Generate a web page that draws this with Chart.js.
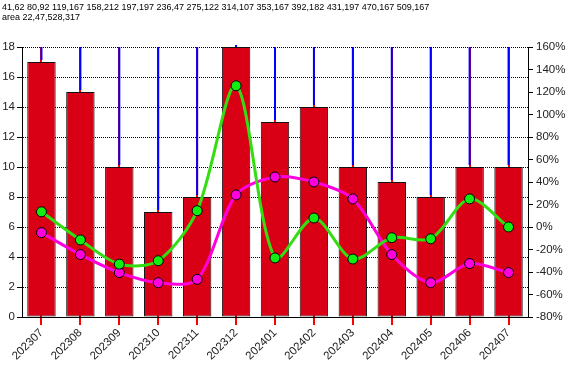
<!DOCTYPE html>
<html>
<head>
<meta charset="utf-8">
<script src="https://cdn.jsdelivr.net/npm/chart.js@4"></script>
<style>
html,body{margin:0;padding:0;background:#fff;}
#wrap{width:578px;height:383px;position:relative;}
</style>
</head>
<body>
<div id="wrap"><canvas id="c" width="578" height="383"></canvas></div>
<script>
const titleText = '中国黑碳化硅生产商过去13个月停产公司数量';
const categories = ['202307','202308','202309','202310','202311','202312','202401','202402','202403','202404','202405','202406','202407'];
const companyCount = [17,15,10,7,8,18,13,14,10,9,8,10,10];
const yoyPct = [-5,-24.5,-40.5,-49.5,-46.5,28.5,44.5,40,25,-24.5,-49.5,-32.5,-40.5];
const momPct = [13.5,-11.5,-33,-30,14.5,125.5,-27.5,8,-28.5,-9.5,-10.5,25,0];
const leftTicks = [0,2,4,6,8,10,12,14,16,18];
const rightTicks = [-80,-60,-40,-20,0,20,40,60,80,100,120,140,160];
const seriesNames = ['同比','环比','公司数量'];

const FONT = '"Liberation Sans", Arial, sans-serif';
const CJK = '"Noto Sans CJK SC", sans-serif';
const BAR = '#D90016';
const MAG = '#FF00DD';
const GRN = '#33DD11';

const extras = {
  id: 'extras',
  afterDraw(chart) {
    const ctx = chart.ctx, a = chart.chartArea;
    const meta = chart.getDatasetMeta(2);
    ctx.save();
    ctx.strokeStyle = 'blue';
    ctx.lineWidth = 2;
    const info = [];
    for (let i = 0; i < categories.length; i++) {
      const el = meta.data[i];
      info.push(Math.round(el.x) + ',' + Math.round(el.y));
      ctx.beginPath(); ctx.moveTo(el.x, a.top); ctx.lineTo(el.x, el.y - 2); ctx.stroke();
    }
    ctx.fillStyle = '#000'; ctx.font = '9px sans-serif';
    ctx.fillText(info.join(' '), 2, 10);
    ctx.fillText('area ' + [a.left, a.top, a.right, a.bottom].map(Math.round).join(','), 2, 20);
    ctx.restore();
  }
};

new Chart(document.getElementById('c'), {
  data: {
    labels: categories,
    datasets: [
      { type: 'line', label: seriesNames[0], data: yoyPct, yAxisID: 'y1', order: 2,
        borderColor: MAG, borderWidth: 3, tension: 0.3,
        pointRadius: 5, pointBackgroundColor: MAG, pointBorderColor: '#000', pointBorderWidth: 1 },
      { type: 'line', label: seriesNames[1], data: momPct, yAxisID: 'y1', order: 1,
        borderColor: GRN, borderWidth: 3, tension: 0.3,
        pointRadius: 5, pointBackgroundColor: '#11EE11', pointBorderColor: '#000', pointBorderWidth: 1 },
      { type: 'bar', label: seriesNames[2], data: companyCount, yAxisID: 'y', order: 3,
        backgroundColor: BAR, borderColor: '#111', borderWidth: 1, borderSkipped: false,
        barPercentage: 0.73, categoryPercentage: 1.0 }
    ]
  },
  options: {
    responsive: false,
    animation: false,
    layout: { padding: { top: 47, left: 0, right: 0, bottom: 0 } },
    plugins: { legend: { display: false }, title: { display: false }, tooltip: { enabled: false } },
    scales: {
      x: {
        offset: true,
        grid: { offset: false, color: 'red', lineWidth: 2 },
        border: { display: true, color: '#000', width: 1 },
        ticks: { minRotation: 45, maxRotation: 45, padding: 1, color: '#222', font: { family: FONT, size: 11.5 } },
        afterFit(s) { s.height = 66; }
      },
      y: {
        position: 'left', min: 0, max: 18,
        afterBuildTicks(s) { s.ticks = leftTicks.map(v => ({ value: v })); },
        grid: { color: '#000', lineWidth: 1, tickLength: 5, tickColor: '#000' },
        border: { display: true, color: '#000', width: 1, dash: [1, 1] },
        ticks: { padding: 2, color: '#222', font: { family: FONT, size: 11.5 } },
        afterFit(s) { s.width = 22; }
      },
      y1: {
        position: 'right', min: -80, max: 160,
        afterBuildTicks(s) { s.ticks = rightTicks.map(v => ({ value: v })); },
        grid: { drawOnChartArea: false, tickLength: 5, tickColor: '#000' },
        border: { display: true, color: '#000', width: 1 },
        ticks: { padding: 3, color: '#222', font: { family: FONT, size: 11.5 }, callback: v => v + '%' },
        afterFit(s) { s.width = 50; }
      }
    }
  },
  plugins: [extras]
});
</script>
</body>
</html>
